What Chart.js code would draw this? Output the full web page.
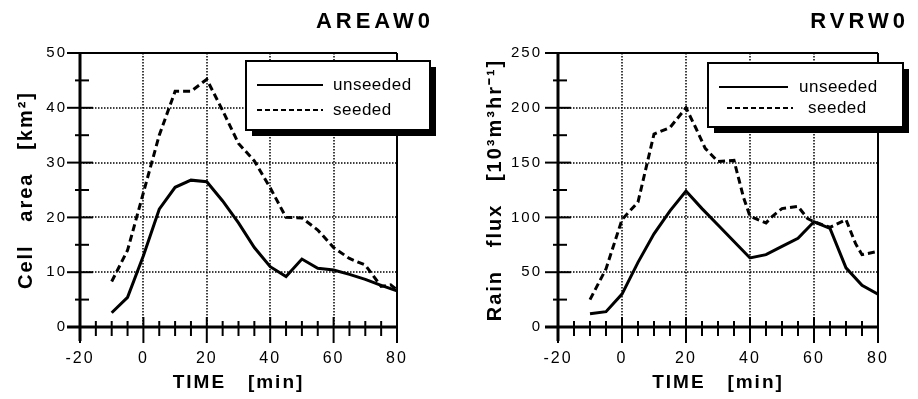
<!DOCTYPE html>
<html>
<head>
<meta charset="utf-8">
<script src="https://cdn.jsdelivr.net/npm/chart.js@4/dist/chart.umd.min.js"></script>
<style>
    html, body { margin: 0; padding: 0; background: #fff; }
    #wrap { position: relative; width: 918px; height: 399px; }
    canvas { position: absolute; top: 0; }
</style>
</head>
<body>
<div id="wrap">
    <canvas id="areaChart" width="459" height="399" style="left:0"></canvas>
    <canvas id="rainChart" width="459" height="399" style="left:459px"></canvas>
</div>
<script>
// values (time in min)
const times = [-10, -5, 0, 5, 10, 15, 20, 25, 30, 35, 40, 45, 50, 55, 60, 65, 70, 75, 80];
const areaUnseeded = [2.6, 5.4, 13, 21.5, 25.5, 26.8, 26.5, 23, 19, 14.5, 11, 9.2, 12.4, 10.7, 10.4, 9.6, 8.7, 7.6, 6.6];
const areaSeededTimes = [-10, -5, 0, 5, 10, 15, 20, 25, 30, 35, 40, 45, 50, 55, 60, 65, 70, 75, 78, 80];
const areaSeeded = [8.3, 14, 24.5, 35, 43, 43, 45.2, 39.5, 33.5, 30.3, 25.4, 20, 19.9, 17.7, 14.5, 12.5, 11.3, 7.4, 7.7, 6.8];
const rainUnseeded = [12, 14, 30, 59, 85, 106, 124, 108, 93, 78, 63, 66, 73.5, 81, 96, 90, 54, 38, 30];
const rainSeededTimes = [-10, -5, 0, 5, 10, 15, 20, 23, 26, 30, 35, 38, 40, 45, 47, 50, 55, 58, 60, 65, 70, 73, 75, 80];
const rainSeeded = [25, 53, 98, 114, 176, 182, 200, 182, 163, 151, 152, 118, 101, 95, 101, 108, 110, 99, 96, 91, 98, 76, 66, 69];

const timeTicks = [-20, 0, 20, 40, 60, 80];
const areaTicks = [0, 10, 20, 30, 40, 50];
const rainTicks = [0, 50, 100, 150, 200, 250];
const seriesNames = ['unseeded', 'seeded'];

const FONT = '"Liberation Sans", Arial, sans-serif';

function points(xs, ys) {
    return xs.map((t, i) => ({ x: t, y: ys[i] }));
}

// grid, crossing ticks, frame, title and boxed legend like the original plot
const decor = {
    id: 'decor',
    beforeDraw(chart) {
        chart.ctx.letterSpacing = '2px';
    },
    beforeDatasetsDraw(chart, args, o) {
        const { ctx, chartArea: a, scales: { x, y } } = chart;
        ctx.save();
        ctx.letterSpacing = '0px';
        ctx.strokeStyle = '#000';
        ctx.lineWidth = 1.5;
        ctx.setLineDash([1.5, 1.5]);
        ctx.beginPath();
        for (let v = x.min + o.xMajor; v < x.max; v += o.xMajor) {
            const px = Math.round(x.getPixelForValue(v));
            ctx.moveTo(px, a.top);
            ctx.lineTo(px, a.bottom);
        }
        for (let v = y.min + o.yMajor; v < y.max; v += o.yMajor) {
            const py = Math.round(y.getPixelForValue(v));
            ctx.moveTo(a.left, py);
            ctx.lineTo(a.right, py);
        }
        ctx.stroke();
        ctx.restore();
    },
    afterDraw(chart, args, o) {
        const { ctx, chartArea: a, scales: { x, y } } = chart;
        ctx.save();
        ctx.letterSpacing = '0px';
        ctx.setLineDash([]);
        ctx.strokeStyle = '#000';
        const line = (x1, y1, x2, y2, w) => {
            ctx.lineWidth = w;
            ctx.beginPath();
            ctx.moveTo(x1, y1);
            ctx.lineTo(x2, y2);
            ctx.stroke();
        };

        line(a.left, a.top, a.right, a.top, 2);
        line(a.right, a.top, a.right, a.bottom + 16, 2);
        line(a.left, a.top - 1, a.left, a.bottom + 14, 3);
        line(a.left - 13, a.bottom, a.right, a.bottom, 3);

        for (let v = y.min; v <= y.max; v += o.yMinor) {
            const py = y.getPixelForValue(v);
            if (v % o.yMajor === 0) line(a.left - 13, py, a.left + 13, py, 2);
            else line(a.left - 5, py, a.left + 9, py, 2);
        }
        for (let v = x.min; v <= x.max; v += o.xMinor) {
            const px = x.getPixelForValue(v);
            if (v % o.xMajor === 0) line(px, a.bottom - 10, px, a.bottom + 16, 2);
            else line(px, a.bottom - 6, px, a.bottom + 9, 2);
        }

        ctx.fillStyle = '#000';
        ctx.font = 'bold 22px ' + FONT;
        ctx.letterSpacing = '4px';
        ctx.textAlign = 'right';
        ctx.textBaseline = 'middle';
        ctx.fillText(o.title, a.right + o.titleDx, 22);

        const b = o.legend;
        const bx = a.right + b.dx, by = a.top + b.dy;
        ctx.fillRect(bx + 6, by + 6, b.w, b.h);
        ctx.fillStyle = '#fff';
        ctx.fillRect(bx, by, b.w, b.h);
        ctx.lineWidth = 2;
        ctx.strokeRect(bx, by, b.w, b.h);

        ctx.fillStyle = '#000';
        ctx.font = '17px ' + FONT;
        ctx.letterSpacing = '0.5px';
        ctx.textAlign = 'left';
        chart.data.datasets.forEach((ds, i) => {
            const e = b.items[i];
            ctx.setLineDash(i === 0 ? [] : [5, 3]);
            line(bx + e.x1, by + e.y, bx + e.x2, by + e.y, 2);
            ctx.fillText(ds.label, bx + e.tx, by + e.y);
        });
        ctx.restore();
    }
};

function makeChart(id, cfg) {
    return new Chart(document.getElementById(id).getContext('2d'), {
        type: 'line',
        data: {
            datasets: [
                {
                    label: seriesNames[0],
                    data: points(times, cfg.unseeded),
                    borderColor: '#000',
                    borderWidth: 3,
                    pointRadius: 0,
                    tension: 0
                },
                {
                    label: seriesNames[1],
                    data: points(cfg.seededTimes, cfg.seeded),
                    borderColor: '#000',
                    borderWidth: 3,
                    borderDash: [7, 4],
                    pointRadius: 0,
                    tension: 0
                }
            ]
        },
        options: {
            responsive: false,
            animation: false,
            layout: { padding: { top: 53, right: cfg.padRight, left: 0, bottom: 0 } },
            plugins: {
                legend: { display: false },
                tooltip: { enabled: false },
                decor: cfg.decor
            },
            scales: {
                x: {
                    type: 'linear',
                    min: timeTicks[0],
                    max: timeTicks[timeTicks.length - 1],
                    grid: { display: false, drawTicks: false },
                    border: { display: false },
                    ticks: {
                        stepSize: timeTicks[1] - timeTicks[0],
                        autoSkip: false,
                        maxRotation: 0,
                        padding: 22,
                        color: '#000',
                        font: { family: FONT, size: 16 }
                    },
                    title: {
                        display: true,
                        text: 'TIME   [min]',
                        color: '#000',
                        font: { family: FONT, size: 19, weight: 'bold' },
                        padding: { top: 0, bottom: 5 }
                    },
                    afterFit(scale) { scale.height = 72; }
                },
                y: {
                    min: cfg.yTicks[0],
                    max: cfg.yTicks[cfg.yTicks.length - 1],
                    grid: { display: false, drawTicks: false },
                    border: { display: false },
                    ticks: {
                        stepSize: cfg.yTicks[1] - cfg.yTicks[0],
                        padding: cfg.tickPad,
                        color: '#000',
                        font: { family: FONT, size: 15 }
                    },
                    title: {
                        display: true,
                        text: cfg.yTitle,
                        color: '#000',
                        font: { family: FONT, size: 20, weight: 'bold' },
                        padding: { top: cfg.titlePad, bottom: 0 }
                    },
                    afterFit(scale) { scale.width = cfg.yWidth; }
                }
            }
        },
        plugins: [decor]
    });
}

const areaChart = makeChart('areaChart', {
    unseeded: areaUnseeded,
    seededTimes: areaSeededTimes,
    seeded: areaSeeded,
    yTicks: areaTicks,
    yTitle: 'Cell   area   [km²]',
    yWidth: 80,
    padRight: 62,
    tickPad: 13,
    titlePad: 14,
    decor: {
        xMajor: 20, xMinor: 5, yMajor: 10, yMinor: 5,
        title: 'AREAW0', titleDx: 37,
        legend: {
            dx: -151, dy: 8, w: 184, h: 69,
            items: [{ x1: 11, x2: 77, y: 24, tx: 87 }, { x1: 11, x2: 77, y: 49, tx: 87 }]
        }
    }
});

const rainChart = makeChart('rainChart', {
    unseeded: rainUnseeded,
    seededTimes: rainSeededTimes,
    seeded: rainSeeded,
    yTicks: rainTicks,
    yTitle: 'Rain   flux   [10³m³hr⁻¹]',
    yWidth: 99,
    padRight: 40,
    tickPad: 16,
    titlePad: 24,
    decor: {
        xMajor: 20, xMinor: 5, yMajor: 50, yMinor: 25,
        title: 'RVRW0', titleDx: 31,
        legend: {
            dx: -170, dy: 10, w: 195, h: 64,
            items: [{ x1: 11, x2: 80, y: 24, tx: 91 }, { x1: 19, x2: 85, y: 45, tx: 100 }]
        }
    }
});
</script>
</body>
</html>
